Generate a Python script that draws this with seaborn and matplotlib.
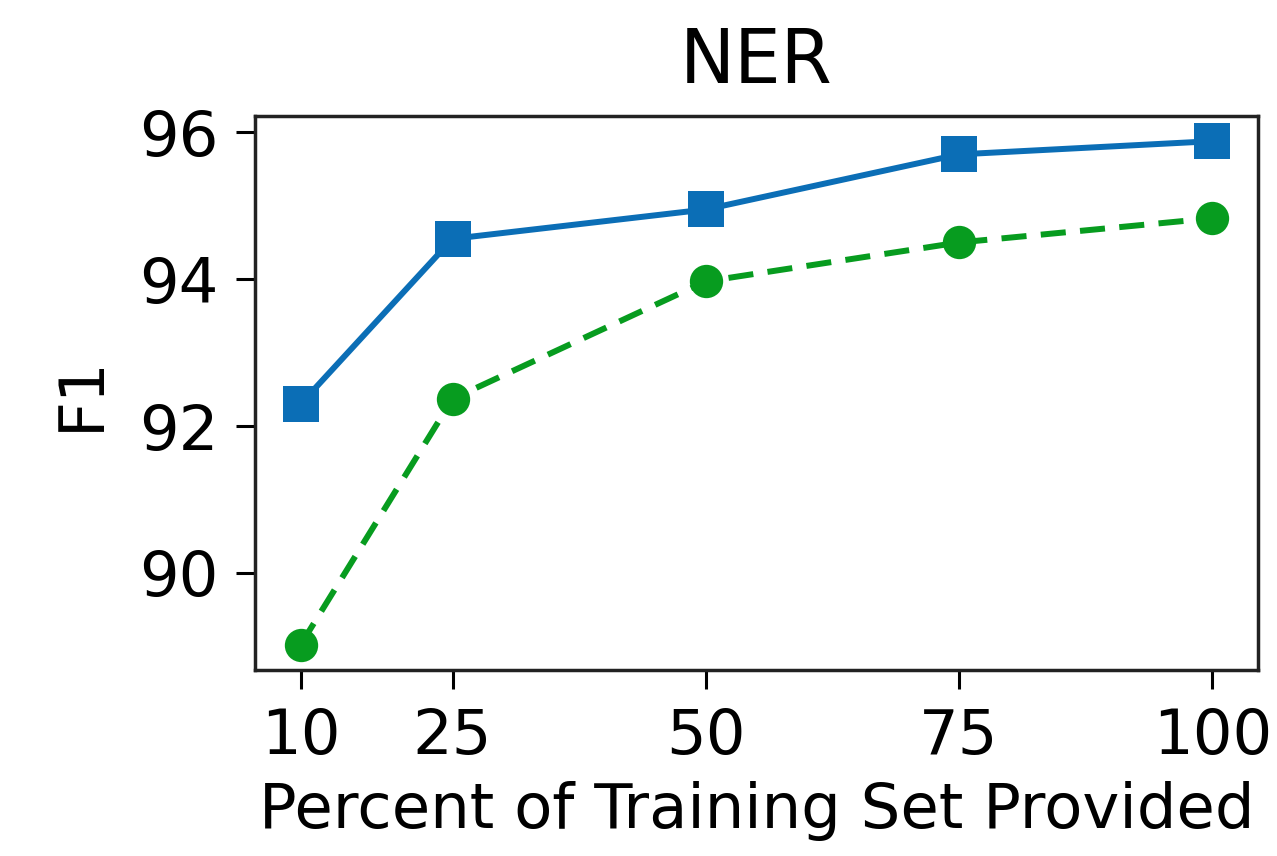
import pandas as pd
import matplotlib.pyplot as plt
import seaborn as sns

percent = [10, 25, 50, 75, 100]
f1_ours = [92.3, 94.55, 94.95, 95.7, 95.88]
f1_base = [89.02, 92.37, 93.97, 94.5, 94.83]

sns.set_style("ticks")
plt.rcParams['font.family'] = ['DejaVu Sans']
plt.rcParams['text.color'] = 'black'
plt.rcParams['axes.labelcolor'] = 'black'
plt.rcParams['xtick.color'] = 'black'
plt.rcParams['ytick.color'] = 'black'
fs = 45

df = pd.DataFrame({'pct': percent, 'ours': f1_ours, 'base': f1_base})

fig = plt.figure(figsize=(12.77, 8.56), dpi=100)
ax = fig.add_axes([0.1997, 0.2173, 0.7853, 0.6472])

sns.lineplot(data=df, x='pct', y='ours', ax=ax, color='#0b6eb6',
             marker='s', markersize=26, markeredgewidth=0, linewidth=4.3)
sns.lineplot(data=df, x='pct', y='base', ax=ax, color='#079c1f',
             marker='o', markersize=24, markeredgewidth=0, linewidth=4.3,
             linestyle='--')
# longer dashes like the original
ax.lines[1].set_dashes((4.2, 2.4))

ax.set_xticks(percent)
ax.set_yticks([90, 92, 94, 96])
ax.tick_params(labelsize=fs, length=14, width=2.2, color='black')
ax.tick_params(axis='x', pad=13)
ax.tick_params(axis='y', pad=12)
for s in ax.spines.values():
    s.set_linewidth(2.5)
    s.set_color('#222222')
ax.set_title('NER', fontsize=53, pad=24)
ax.set_xlabel('Percent of Training Set Provided', fontsize=fs, labelpad=10)
ax.set_ylabel('F1', fontsize=fs, labelpad=20)

fig.savefig('out.png', dpi=100)
